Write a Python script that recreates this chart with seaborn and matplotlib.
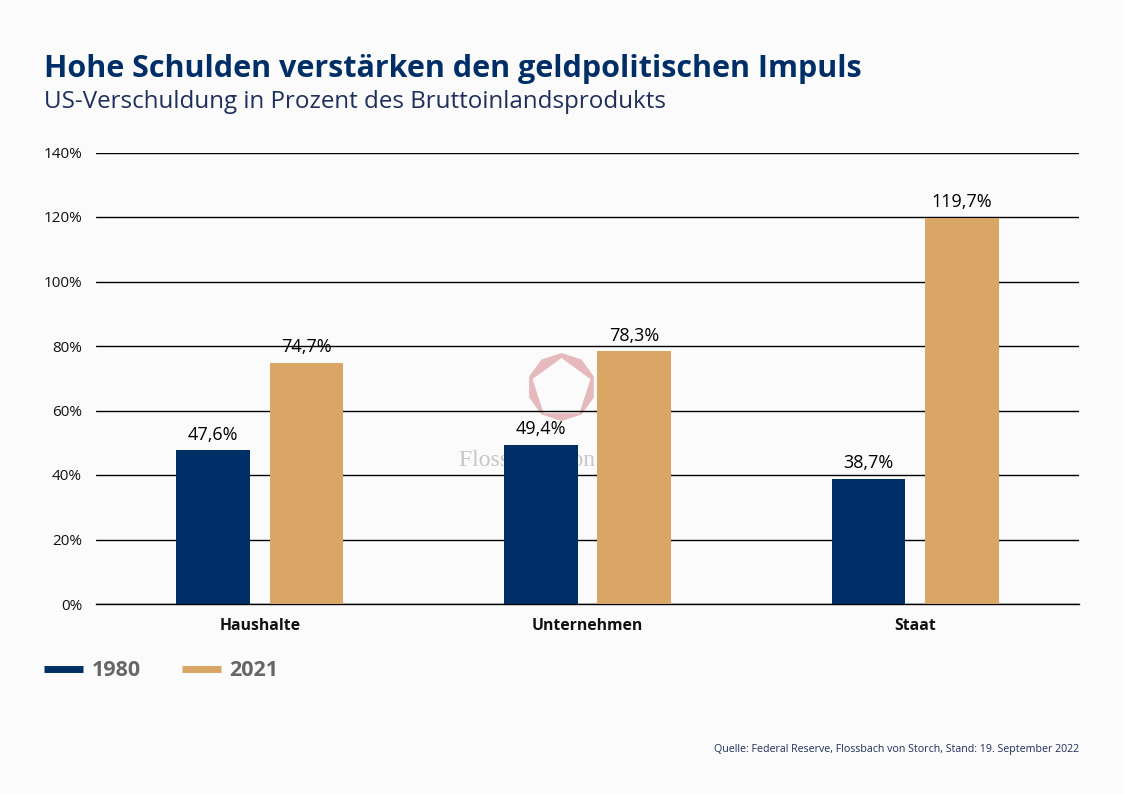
import numpy as np
import pandas as pd
import seaborn as sns
import matplotlib.pyplot as plt
from matplotlib.lines import Line2D
from matplotlib.patches import RegularPolygon
from matplotlib.transforms import IdentityTransform

categories = ['Haushalte', 'Unternehmen', 'Staat']
years = ['1980', '2021']
values_1980 = [47.6, 49.4, 38.7]
values_2021 = [74.7, 78.3, 119.7]
yticks = [0, 20, 40, 60, 80, 100, 120, 140]

navy = '#002F67'
gold = '#D9A665'
bg = '#FBFBFB'

df = pd.DataFrame({'kategorie': categories * 2,
                   'jahr': [years[0]] * 3 + [years[1]] * 3,
                   'wert': values_1980 + values_2021})

sns.set_theme(style='white')
plt.rcParams['font.family'] = ['Open Sans', 'DejaVu Sans']

W, H = 1123, 794
fig = plt.figure(figsize=(W / 100, H / 100), dpi=100, facecolor=bg)
ax = fig.add_axes([96 / W, 1 - 604 / H, (1079 - 96) / W, (604 - 152.5) / H], facecolor='none')
ax.set_zorder(2)

sns.barplot(data=df, x='kategorie', y='wert', hue='jahr', palette=[navy, gold],
            width=0.57, gap=0.214, saturation=1, errorbar=None, legend=False,
            linewidth=0, zorder=3, ax=ax)

ax.set_ylim(0, 140)
ax.set_xlim(-0.5, 2.5)
ax.set_yticks(yticks)
ax.set_yticklabels([f'{t}%' for t in yticks], fontsize=11, color='#111111')
ax.set_xlabel('')
ax.set_ylabel('')
ax.tick_params(axis='y', length=0, pad=10)
ax.tick_params(axis='x', length=0, pad=10)
for lab in ax.get_xticklabels():
    lab.set_fontsize(11.3)
    lab.set_fontweight('bold')
    lab.set_color('#111111')
ax.grid(axis='y', color='black', lw=1, zorder=1)
ax.set_axisbelow(True)
for s in ['top', 'right', 'left']:
    ax.spines[s].set_visible(False)
ax.spines['bottom'].set_color('black')
ax.spines['bottom'].set_linewidth(1)

for cont, vals in zip(ax.containers, [values_1980, values_2021]):
    ax.bar_label(cont, labels=[f'{v:.1f}%'.replace('.', ',') for v in vals],
                 padding=5, fontsize=13, color='black', zorder=5)

# watermark, sits behind the grid and the bars (pixel positions, y flipped)
fig.patches.append(RegularPolygon((561.5, H - 387), 10, radius=34, orientation=0,
                                  transform=IdentityTransform(), fc='#E6B9BC', ec='none', figure=fig))
fig.patches.append(RegularPolygon((561.5, H - 388.5), 5, radius=30.5, orientation=0,
                                  transform=IdentityTransform(), fc=bg, ec='none', figure=fig))
fig.text(561 / W, 1 - 466 / H, 'Flossbach von Storch', ha='center', va='baseline',
         fontsize=17, color='#C6C6C6', family=['Liberation Serif'], zorder=0)

fig.text(44 / W, 1 - 77 / H, 'Hohe Schulden verstärken den geldpolitischen Impuls',
         fontsize=22, fontweight='bold', color=navy, va='baseline')
fig.text(44 / W, 1 - 108 / H, 'US-Verschuldung in Prozent des Bruttoinlandsprodukts',
         fontsize=17.4, color='#1F2F5C', va='baseline')

handles = [Line2D([], [], color=navy, lw=5, solid_capstyle='butt'),
           Line2D([], [], color=gold, lw=5, solid_capstyle='butt')]
fig.legend(handles, years, loc='center left', bbox_to_anchor=(44 / W, 1 - 671 / H),
           frameon=False, ncol=2, borderpad=0, borderaxespad=0, handlelength=1.8,
           handletextpad=0.42, columnspacing=1.9,
           prop={'size': 15.5, 'weight': 'bold'}, labelcolor='#666666')

fig.text(1079 / W, 1 - 752 / H, 'Quelle: Federal Reserve, Flossbach von Storch, Stand: 19. September 2022',
         fontsize=7.7, color='#1F2F5C', ha='right', va='baseline')

fig.savefig('out.png', dpi=100, facecolor=bg)
